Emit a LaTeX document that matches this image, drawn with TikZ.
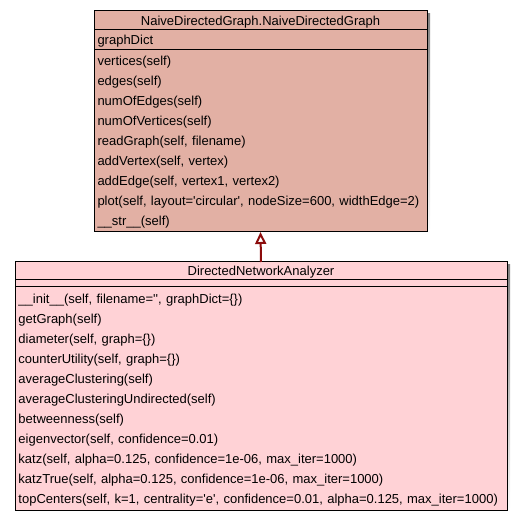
\documentclass[tikz,border=0pt]{standalone}
\usepackage{fontspec}
\newfontfamily\umlfont{Liberation Sans}
\usetikzlibrary{positioning, arrows.meta, backgrounds}
\definecolor{basefill}{RGB}{226,176,164}
\definecolor{subfill}{RGB}{255,210,214}
\definecolor{inherit}{RGB}{140,12,12}
\definecolor{shade}{RGB}{85,85,85}
\newcommand{\rowstrut}{\rule[-5pt]{0pt}{20pt}}
\tikzstyle{umlpart} = [rectangle, draw=black, line width=1pt, outer sep=0pt, inner xsep=3.5pt, inner ysep=1pt, align=left, font=\umlfont\fontsize{13}{20}\selectfont]
\tikzstyle{umltitle} = [umlpart, align=center, text height=12pt, text depth=2.7pt]
\tikzstyle{arrow} = [line width=2pt, draw=inherit, -{Triangle[open, length=12pt, width=11pt]}]

\begin{document}
\begin{tikzpicture}
\useasboundingbox (0,0) rectangle (523pt,-521pt);

% Base class
\node (ngTitle) [umltitle, fill=basefill, minimum width=333pt, minimum height=19pt, anchor=north] at (260.5pt,-11pt) {NaiveDirectedGraph.NaiveDirectedGraph};
\node (ngAttr) [umlpart, fill=basefill, text width=326pt, minimum height=20pt, text height=12pt, text depth=2.7pt, below=0pt of ngTitle] {graphDict};
\node (ngMeth) [umlpart, fill=basefill, text width=326pt, below=0pt of ngAttr] {\rowstrut vertices(self)\\
\rowstrut edges(self)\\
\rowstrut numOfEdges(self)\\
\rowstrut numOfVertices(self)\\
\rowstrut readGraph(self, filename)\\
\rowstrut addVertex(self, vertex)\\
\rowstrut addEdge(self, vertex1, vertex2)\\
\rowstrut plot(self, layout='circular', nodeSize=600, widthEdge=2)\\
\rowstrut \_\_str\_\_(self)};

% Derived class
\node (dnaTitle) [umltitle, fill=subfill, minimum width=492pt, minimum height=18pt, anchor=north] at (261pt,-262pt) {DirectedNetworkAnalyzer};
\node (dnaAttr) [umlpart, fill=subfill, text width=485pt, minimum height=7pt, inner ysep=0pt, below=0pt of dnaTitle] {};
\node (dnaMeth) [umlpart, fill=subfill, text width=485pt, inner ysep=2pt, below=0pt of dnaAttr] {\rowstrut \_\_init\_\_(self, filename='', graphDict=\{\})\\
\rowstrut getGraph(self)\\
\rowstrut diameter(self, graph=\{\})\\
\rowstrut counterUtility(self, graph=\{\})\\
\rowstrut averageClustering(self)\\
\rowstrut averageClusteringUndirected(self)\\
\rowstrut betweenness(self)\\
\rowstrut eigenvector(self, confidence=0.01)\\
\rowstrut katz(self, alpha=0.125, confidence=1e-06, max\_iter=1000)\\
\rowstrut katzTrue(self, alpha=0.125, confidence=1e-06, max\_iter=1000)\\
\rowstrut topCenters(self, k=1, centrality='e', confidence=0.01, alpha=0.125, max\_iter=1000)};

% Shadows
\begin{scope}[on background layer]
\fill [shade] ([shift={(3pt,-3pt)}]ngTitle.north west) rectangle ([shift={(3pt,-3pt)}]ngMeth.south east);
\fill [shade] ([shift={(3pt,-3pt)}]dnaTitle.north west) rectangle ([shift={(3pt,-3pt)}]dnaMeth.south east);
\end{scope}

% Arrows
\draw [arrow] (dnaTitle.north) -- (ngMeth.south);

\end{tikzpicture}
\end{document}
